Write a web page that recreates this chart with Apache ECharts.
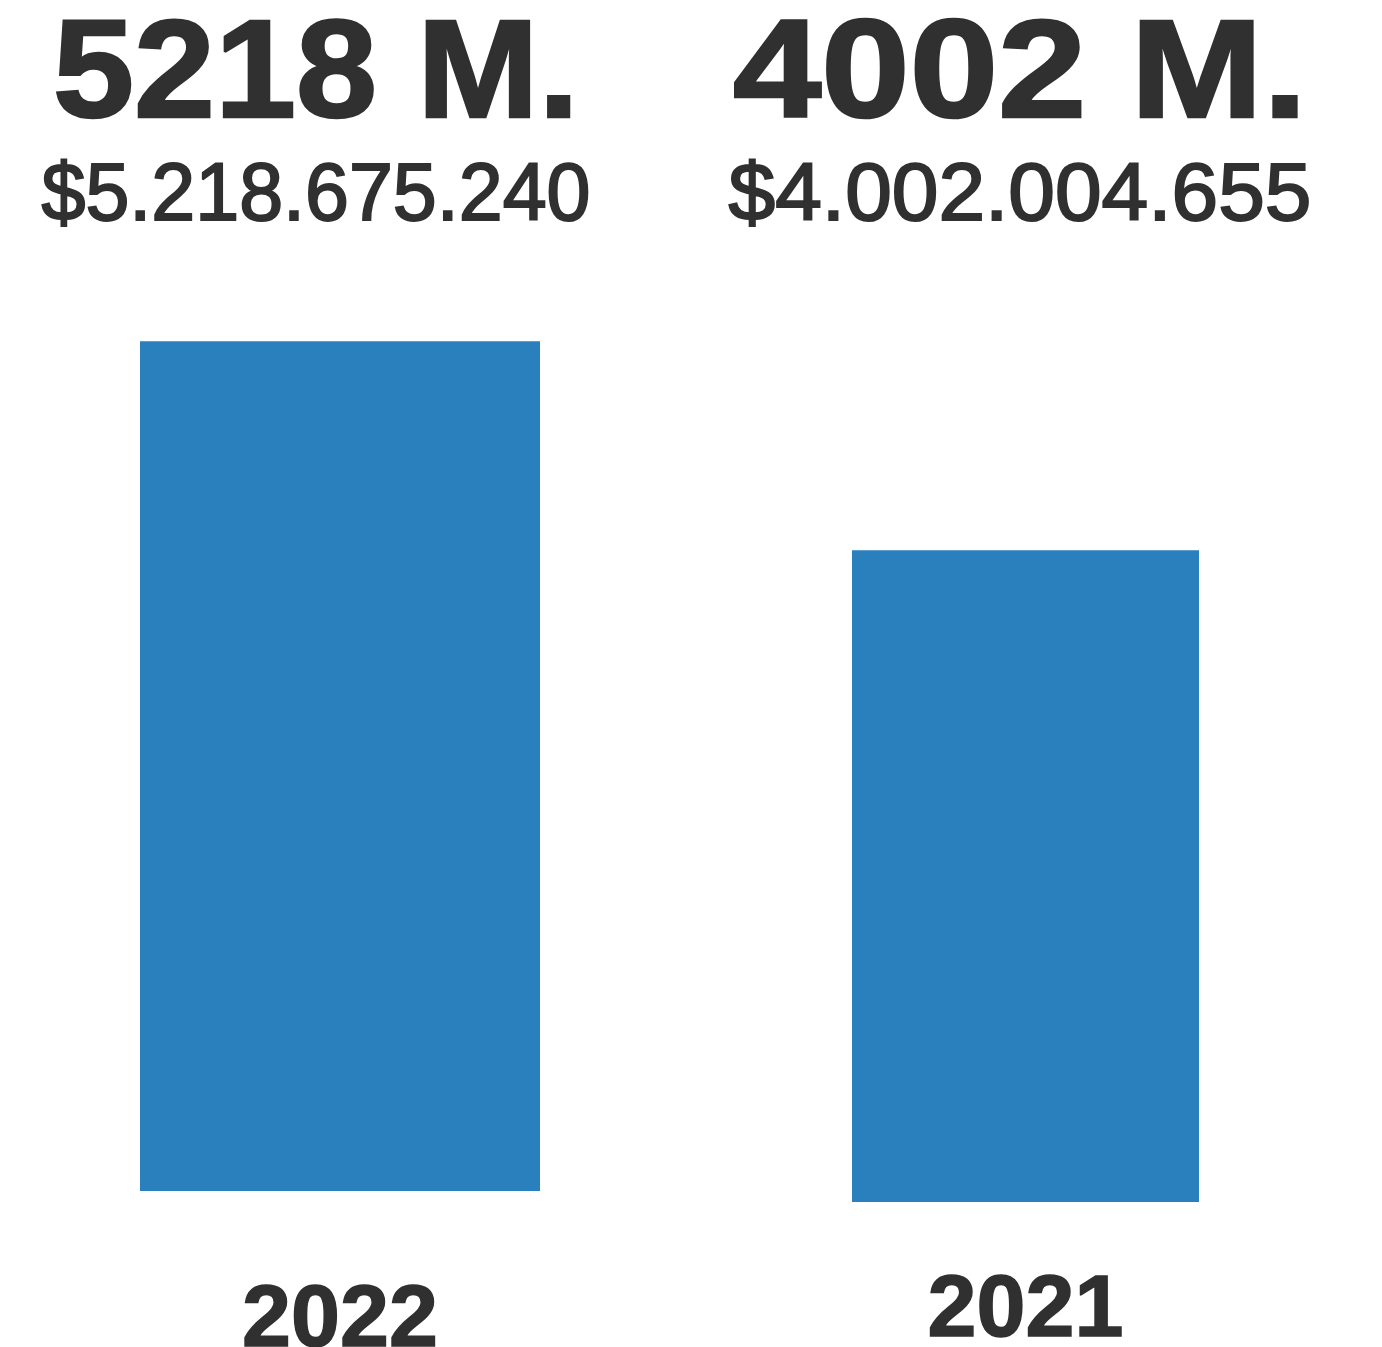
<!DOCTYPE html>
<html>
<head>
<meta charset="utf-8">
<script src="https://cdn.jsdelivr.net/npm/echarts@6/dist/echarts.min.js"></script>
<style>
html,body{margin:0;padding:0;background:#fff;}
#chart{width:1382px;height:1347px;}
</style>
</head>
<body>
<div id="chart"></div>
<script>
// Data
const years = ['2022', '2021'];
const amounts = [5218675240, 4002004655];
const yMax = 6000000000;

const FONT = "'Liberation Sans', Arial, Helvetica, sans-serif";
const TEXT_COLOR = '#303030';
const BAR_COLOR = '#2980bd';

function shortLabel(v) { return Math.floor(v / 1e6) + ' M.'; }
function longLabel(v) { return '$' + String(v).replace(/\B(?=(\d{3})+(?!\d))/g, '.'); }

// layout per panel
const panels = [
  { left: 140, width: 400, top: 214, height: 977, margin: 87, cx: 316, s1: 1.04, s2: 0.975 },
  { left: 852, width: 347, top: 225, height: 977, margin: 66, cx: 1020, s1: 1.135, s2: 1.035 }
];

const chart = echarts.init(document.getElementById('chart'), null, { renderer: 'canvas' });

const option = {
  backgroundColor: '#ffffff',
  animation: false,
  grid: panels.map(p => ({
    left: p.left, width: p.width, top: p.top, height: p.height,
    containLabel: false,
    outerBoundsMode: 'none'
  })),
  xAxis: panels.map((p, i) => ({
    type: 'category',
    gridIndex: i,
    data: [years[i]],
    axisLine: { show: false },
    axisTick: { show: false },
    axisLabel: {
      margin: p.margin,
      fontSize: 88,
      fontWeight: 'bold',
      fontFamily: FONT,
      color: TEXT_COLOR,
      textBorderColor: TEXT_COLOR,
      textBorderWidth: 1.5
    }
  })),
  yAxis: panels.map((p, i) => ({
    type: 'value',
    gridIndex: i,
    min: 0,
    max: yMax,
    show: false,
    splitLine: { show: false }
  })),
  series: panels.map((p, i) => ({
    type: 'bar',
    xAxisIndex: i,
    yAxisIndex: i,
    data: [amounts[i]],
    barWidth: '100%',
    itemStyle: { color: BAR_COLOR }
  })),
  graphic: panels.flatMap((p, i) => ([
    {
      type: 'text',
      x: p.cx,
      y: 78,
      scaleX: p.s1,
      style: {
        text: shortLabel(amounts[i]),
        fill: TEXT_COLOR,
        stroke: TEXT_COLOR,
        lineWidth: 2.5,
        font: "bold 140px " + FONT,
        textAlign: 'center',
        textVerticalAlign: 'middle'
      }
    },
    {
      type: 'text',
      x: p.cx,
      y: 198,
      scaleX: p.s2,
      style: {
        text: longLabel(amounts[i]),
        fill: TEXT_COLOR,
        stroke: TEXT_COLOR,
        lineWidth: 2,
        font: "81px " + FONT,
        textAlign: 'center',
        textVerticalAlign: 'middle'
      }
    }
  ]))
};

chart.setOption(option);
</script>
</body>
</html>
